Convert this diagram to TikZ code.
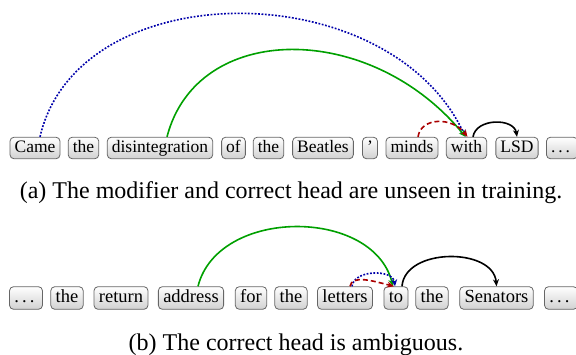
\documentclass[tikz,border=0pt]{standalone}
\usepackage{fontspec}
\setmainfont{Liberation Serif}
\usetikzlibrary{arrows.meta}

\definecolor{arcblue}{RGB}{0,0,170}
\definecolor{arcgreen}{RGB}{0,160,0}
\definecolor{arcred}{RGB}{170,0,0}

\newcommand{\tokdots}{.\kern.1667em.\kern.1667em.\kern.1667em}

\tikzset{
  tok/.style={draw=black!60, line width=0.8pt, rounded corners=4pt,
    top color=white, bottom color=black!18,
    inner xsep=4.6pt, inner ysep=2.5pt, text height=12.5pt, text depth=4pt,
    font=\fontsize{17.5}{20}\selectfont},
  tokb/.style={tok, inner xsep=4.9pt, inner ysep=2.6pt, text height=13.2pt,
    text depth=4.2pt, font=\fontsize{18.5}{21}\selectfont},
  deparc/.style={line width=1.6pt, -{Stealth[length=7pt,width=6pt]}},
  goldarc/.style={deparc, draw=arcgreen},
  predarc/.style={deparc, draw=arcblue, dash pattern=on 1.8pt off 1.6pt},
  altarc/.style={deparc, draw=arcred, dash pattern=on 5pt off 3pt},
  plainarc/.style={deparc, draw=black},
  caption/.style={anchor=base, inner sep=0pt, font=\fontsize{24}{28}\selectfont}
}

\begin{document}
\begin{tikzpicture}[x=1pt, y=1pt]
\useasboundingbox (0,0) rectangle (576,354);

% sentence (a)
\node[tok] (came)  at (35,206)    {Came};
\node[tok] (the1)  at (83.5,206)  {the};
\node[tok] (dis)   at (160,206)   {disintegration};
\node[tok] (of)    at (233.5,206) {of};
\node[tok] (the2)  at (268.5,206) {the};
\node[tok] (beat)  at (323,206)   {Beatles};
\node[tok] (apos)  at (370,206)   {’};
\node[tok] (minds) at (412,206)   {minds};
\node[tok] (with)  at (466.5,206) {with};
\node[tok] (lsd)   at (517,206)   {LSD};
\node[tok] (dotsa) at (562,206)   {\tokdots};

\draw[predarc] ([xshift=5pt]came.north) .. controls +(38,164) and +(-77,164) .. ([xshift=-1pt]with.north);
\draw[goldarc] ([xshift=7pt]dis.north) .. controls +(30,116) and +(-95,116) .. ([xshift=-1pt]with.north);
\draw[altarc] ([xshift=6pt]minds.north) .. controls +(3,20) and +(-15,20) .. ([xshift=1pt]with.north);
\draw[plainarc] ([xshift=6.5pt]with.north) .. controls +(3,19) and +(-3,19) .. (lsd.north);

\node[caption] (capa) at (291,155) {(a) The modifier and correct head are unseen in training.};

% sentence (b)
\node[tokb] (dotsb)   at (26,56)    {\tokdots};
\node[tokb] (the3)    at (67,56)    {the};
\node[tokb] (return)  at (121,56)   {return};
\node[tokb] (address) at (191,56)   {address};
\node[tokb] (for)     at (251,56)   {for};
\node[tokb] (the4)    at (291,56)   {the};
\node[tokb] (letters) at (345,56)   {letters};
\node[tokb] (to)      at (396,56)   {to};
\node[tokb] (the5)    at (432,56)   {the};
\node[tokb] (senat)   at (496.5,56) {Senators};
\node[tokb] (dotsc)   at (561,56)   {\tokdots};

\draw[goldarc] ([xshift=7pt]address.north) .. controls +(20,79) and +(-20,79) .. ([xshift=-3pt]to.north);
\draw[predarc] ([xshift=7pt]letters.north) .. controls +(2,17) and +(-2,17) .. ([xshift=-1pt]to.north);
\draw[altarc] ([xshift=5pt]letters.north) .. controls +(2,12) and +(-20,5) .. ([xshift=-2pt]to.north);
\draw[plainarc] ([xshift=6pt]to.north) .. controls +(3,39) and +(-3,39) .. (senat.north);

\node[caption] (capb) at (296,4) {(b) The correct head is ambiguous.};
\end{tikzpicture}
\end{document}
